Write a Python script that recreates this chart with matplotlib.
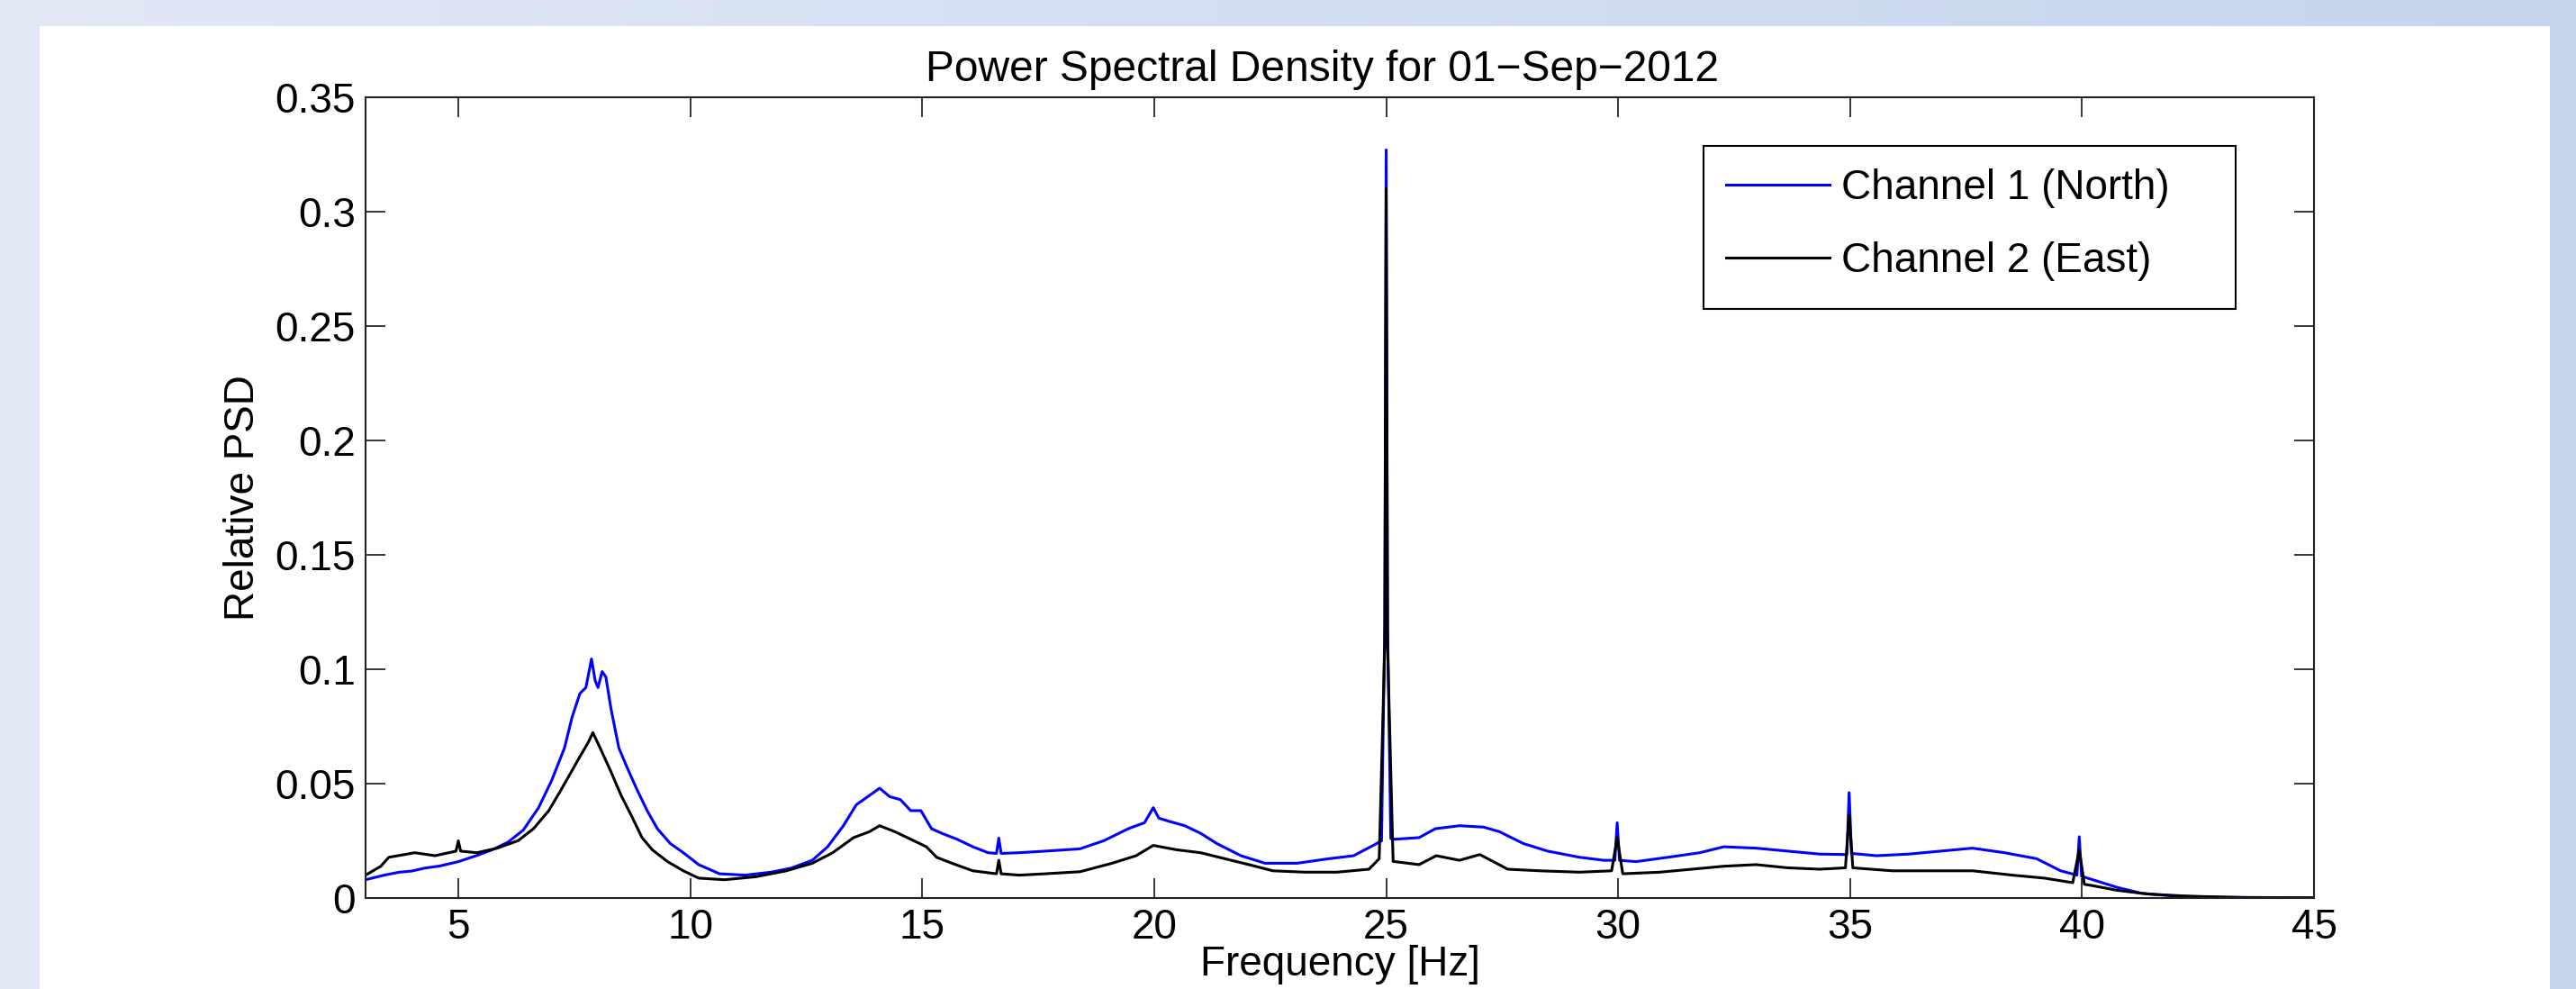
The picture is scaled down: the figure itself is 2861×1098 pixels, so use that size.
# -*- coding: utf-8 -*-
# Power spectral density of the two channels, MATLAB style figure
import numpy as np
import matplotlib
matplotlib.use('Agg')
import matplotlib.pyplot as plt
from matplotlib.patches import Rectangle

plt.rcParams['font.family'] = ['Liberation Sans', 'DejaVu Sans']

# ---------------------------------------------------------------- data
# values (frequency in Hz, relative PSD)
freq_north = [3.00, 3.40, 3.73, 4.00, 4.28, 4.60, 5.00, 5.40, 5.73, 6.07,
              6.40, 6.73, 7.01, 7.29, 7.45, 7.62, 7.75, 7.87, 7.95, 8.01,
              8.10, 8.18, 8.29, 8.46, 8.62, 8.85, 9.07, 9.29, 9.57, 9.85,
              10.18, 10.63, 11.18, 11.74, 12.18, 12.63, 12.96, 13.30, 13.58, 13.86,
              14.08, 14.30, 14.53, 14.75, 14.97, 15.20, 15.42, 15.75, 16.09, 16.42,
              16.60, 16.65, 16.70, 17.09, 17.65, 18.40, 18.92, 19.44, 19.79, 19.98,
              20.10, 20.31, 20.66, 21.00, 21.35, 21.87, 22.39, 23.08, 23.77, 24.30,
              24.73, 24.90, 24.97, 25.00, 25.03, 25.10, 25.19, 25.71, 26.06, 26.58,
              27.10, 27.44, 27.96, 28.48, 29.17, 29.69, 29.93, 29.98, 30.03, 30.38,
              31.07, 31.76, 32.28, 32.97, 33.66, 34.35, 34.93, 34.98, 35.03, 35.57,
              36.26, 36.95, 37.64, 38.33, 39.02, 39.54, 39.89, 39.94, 39.99, 40.23,
              40.75, 41.27, 41.96, 43.00, 45.00]
psd_north = [0.0080, 0.0100, 0.0113, 0.0118, 0.0131, 0.0140, 0.0159, 0.0186, 0.0211, 0.0244,
             0.0297, 0.0395, 0.0513, 0.0657, 0.0789, 0.0894, 0.0920, 0.1045, 0.0950, 0.0920,
             0.0990, 0.0966, 0.0828, 0.0656, 0.0579, 0.0474, 0.0382, 0.0303, 0.0238, 0.0198,
             0.0146, 0.0106, 0.0100, 0.0113, 0.0131, 0.0165, 0.0224, 0.0316, 0.0408, 0.0448,
             0.0480, 0.0443, 0.0430, 0.0382, 0.0382, 0.0303, 0.0283, 0.0257, 0.0224, 0.0198,
             0.0195, 0.0262, 0.0195, 0.0198, 0.0205, 0.0215, 0.0251, 0.0303, 0.0329, 0.0395,
             0.0349, 0.0336, 0.0316, 0.0283, 0.0238, 0.0185, 0.0152, 0.0152, 0.0172, 0.0185,
             0.0231, 0.0250, 0.1200, 0.3270, 0.1200, 0.0260, 0.0257, 0.0264, 0.0303, 0.0316,
             0.0310, 0.0290, 0.0238, 0.0205, 0.0178, 0.0165, 0.0165, 0.0329, 0.0165, 0.0159,
             0.0178, 0.0198, 0.0224, 0.0218, 0.0205, 0.0192, 0.0190, 0.0461, 0.0195, 0.0185,
             0.0192, 0.0205, 0.0218, 0.0198, 0.0172, 0.0119, 0.0100, 0.0268, 0.0095, 0.0080,
             0.0047, 0.0021, 0.0009, 0.0003, 0.0001]

freq_east = [3.00, 3.33, 3.50, 4.06, 4.50, 4.95, 5.00, 5.05, 5.40, 5.84,
             6.29, 6.62, 6.95, 7.18, 7.40, 7.62, 7.80, 7.90, 8.07, 8.29,
             8.51, 8.74, 8.96, 9.18, 9.51, 9.85, 10.18, 10.74, 11.41, 12.07,
             12.63, 13.07, 13.52, 13.86, 14.08, 14.41, 14.75, 15.09, 15.31, 15.64,
             16.09, 16.60, 16.65, 16.70, 17.09, 17.65, 18.40, 19.09, 19.61, 19.98,
             20.48, 21.00, 21.52, 22.04, 22.56, 23.25, 23.94, 24.63, 24.85, 24.97,
             25.00, 25.03, 25.15, 25.71, 26.08, 26.58, 27.02, 27.62, 28.31, 29.17,
             29.86, 29.98, 30.10, 30.90, 31.59, 32.28, 32.97, 33.66, 34.35, 34.90,
             34.98, 35.06, 35.91, 36.78, 37.64, 38.50, 39.19, 39.80, 39.94, 40.05,
             40.23, 40.75, 41.44, 42.30, 43.50, 45.00]
psd_east = [0.0100, 0.0139, 0.0178, 0.0198, 0.0185, 0.0205, 0.0250, 0.0205, 0.0198, 0.0218,
            0.0251, 0.0303, 0.0382, 0.0461, 0.0539, 0.0618, 0.0680, 0.0723, 0.0650, 0.0552,
            0.0448, 0.0356, 0.0264, 0.0211, 0.0159, 0.0119, 0.0087, 0.0080, 0.0093, 0.0119,
            0.0152, 0.0198, 0.0264, 0.0290, 0.0316, 0.0290, 0.0257, 0.0224, 0.0178, 0.0152,
            0.0119, 0.0106, 0.0165, 0.0106, 0.0100, 0.0106, 0.0115, 0.0152, 0.0185, 0.0230,
            0.0211, 0.0198, 0.0172, 0.0146, 0.0119, 0.0113, 0.0113, 0.0126, 0.0172, 0.1100,
            0.3100, 0.1100, 0.0160, 0.0146, 0.0185, 0.0165, 0.0190, 0.0126, 0.0119, 0.0113,
            0.0119, 0.0264, 0.0106, 0.0113, 0.0126, 0.0139, 0.0146, 0.0132, 0.0126, 0.0132,
            0.0362, 0.0132, 0.0119, 0.0119, 0.0119, 0.0100, 0.0087, 0.0067, 0.0211, 0.0060,
            0.0054, 0.0034, 0.0017, 0.0008, 0.0002, 0.0001]

x_ticks = [5, 10, 15, 20, 25, 30, 35, 40, 45]
y_ticks = [0, 0.05, 0.1, 0.15, 0.2, 0.25, 0.3, 0.35]
y_ticklabels = ['0', '0.05', '0.1', '0.15', '0.2', '0.25', '0.3', '0.35']
series_names = ['Channel 1 (North)', 'Channel 2 (East)']

# ---------------------------------------------------------------- figure
W, H = 2861, 1098
fig = plt.figure(figsize=(W / 100, H / 100), dpi=100)

# light blue gradient background with a white panel on top
bg = fig.add_axes([0, 0, 1, 1], zorder=-2)
grad = np.linspace(0, 1, 256)[None, :]
bg.imshow(grad, aspect='auto', extent=[0, 1, 0, 1],
          cmap=matplotlib.colors.LinearSegmentedColormap.from_list(
              'bg', ['#e2e8f6', '#c5d5ee']))
bg.set_axis_off()
fig.add_artist(Rectangle((44 / W, 0), (2832 - 44) / W, (H - 29) / H,
                         transform=fig.transFigure, facecolor='white',
                         edgecolor='none', zorder=-1))

ax = fig.add_axes([406 / W, 1 - 997 / H, (2570 - 406) / W, (997 - 108) / H])
ax.plot(freq_north, psd_north, color='#0000ff', lw=2.2, label=series_names[0])
ax.plot(freq_east, psd_east, color='black', lw=2.2, label=series_names[1])

ax.set_xlim(3, 45)
ax.set_ylim(0, 0.35)
ax.set_xticks(x_ticks)
ax.set_yticks(y_ticks)
ax.set_yticklabels(y_ticklabels)

# MATLAB look: boxed axes, inward ticks on all sides
ax.tick_params(direction='in', length=15.5, width=1.1, labelsize=33,
               top=True, right=True, pad=8, colors='black')
for sp in ax.spines.values():
    sp.set_linewidth(1.5)
    sp.set_color('#222222')

ax.set_title('Power Spectral Density for 01\u2212Sep\u22122012', fontsize=34.5,
             pad=13, x=0.491)
ax.set_xlabel('Frequency [Hz]', fontsize=33, labelpad=-2)
ax.set_ylabel('Relative PSD', fontsize=33, labelpad=10)

# legend box is wider than its text in the original, so draw the frame apart
ax.add_patch(Rectangle((1892 / W, 1 - 343 / H), (2483 - 1892) / W, (343 - 162) / H,
                       transform=fig.transFigure, facecolor='white',
                       edgecolor='black', lw=1.5, zorder=4))
leg = ax.legend(loc='upper left', bbox_to_anchor=(1892 / W, 1 - 162 / H),
                bbox_transform=fig.transFigure, fontsize=33, frameon=False,
                handlelength=2.5, handletextpad=0.28, labelspacing=0.8,
                borderpad=0.55, borderaxespad=0)
leg.set_zorder(5)

fig.savefig('out.png', dpi=100)
